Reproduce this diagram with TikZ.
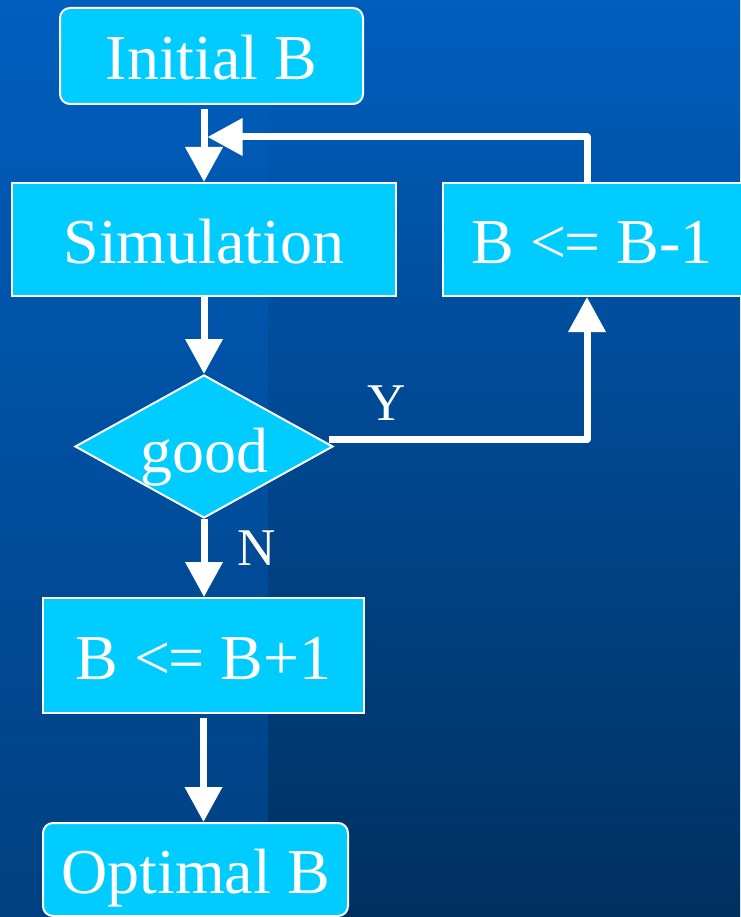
\documentclass[tikz,border=0pt]{standalone}
\usepackage{fontspec}
\setmainfont{Liberation Serif}
\usetikzlibrary{arrows.meta,shapes.geometric}
\definecolor{bgtop}{HTML}{005EBE}
\definecolor{bgbotR}{HTML}{00305F}
\definecolor{bgbotL}{HTML}{004080}
\definecolor{boxcyan}{HTML}{00CCFF}
\tikzset{
  box/.style={draw=white, line width=2pt, fill=boxcyan, text=white, inner sep=0pt,
    font=\fontsize{64}{70}\selectfont, text height=48pt, text depth=0pt},
  rbox/.style={box, rounded corners=10pt},
  dbox/.style={box, diamond, aspect=1.8, text height=51pt},
  arr/.style={draw=white, line width=7pt, line join=round,
    -{Triangle[width=36pt,length=35pt]}},
  lbl/.style={text=white, inner sep=0pt, anchor=base, font=\fontsize{53}{60}\selectfont}
}
\begin{document}
\begin{tikzpicture}[x=1pt,y=-1pt]
\useasboundingbox (0,0) rectangle (740,917);
% background
\shade[top color=bgtop, bottom color=bgbotR] (0,0) rectangle (740,917);
\shade[top color=bgtop, bottom color=bgbotL] (0,0) rectangle (268,917);
% nodes
\node[rbox, minimum width=303pt, minimum height=96pt] (init) at (211.5,56) {Initial B};
\node[box, minimum width=384pt, minimum height=113pt] (sim) at (204,239.5) {Simulation};
\node[box, minimum width=304pt, minimum height=113pt] (dec) at (595,239.5) {\hspace*{-6pt}B {<}{\kern-2pt}{=} B-1};
\node[dbox, minimum width=258pt, minimum height=143pt] (good) at (204,446.5) {good};
\node[box, minimum width=321pt, minimum height=115pt] (inc) at (203.5,655.5) {B {<}{\kern-2pt}{=} B+1};
\node[rbox, minimum width=305pt, minimum height=93pt] (opt) at (195.5,869.5) {Optimal B};
% helper coordinates
\coordinate (lp) at (587,137);
\coordinate (lpend) at (207.5,137);
\coordinate (yc) at (587,439.5);
% connectors
\draw[arr] ([yshift=-4pt]init.south -| sim.north) -- (sim.north);
\draw[arr] (dec.north -| lp) -- (lp) -- (lpend);
\draw[arr] (sim.south) -- (good.north);
\draw[arr] ([xshift=-5pt]good.east |- yc) -- (yc) -- (yc |- dec.south);
\draw[arr] (good.south) -- (good.south |- inc.north);
\draw[arr] ([yshift=-4pt]inc.south) -- (inc.south |- opt.north);
% labels
\node[lbl] (ylab) at (387,420.5) {Y};
\node[lbl] (nlab) at (257,565) {N};
\end{tikzpicture}
\end{document}
